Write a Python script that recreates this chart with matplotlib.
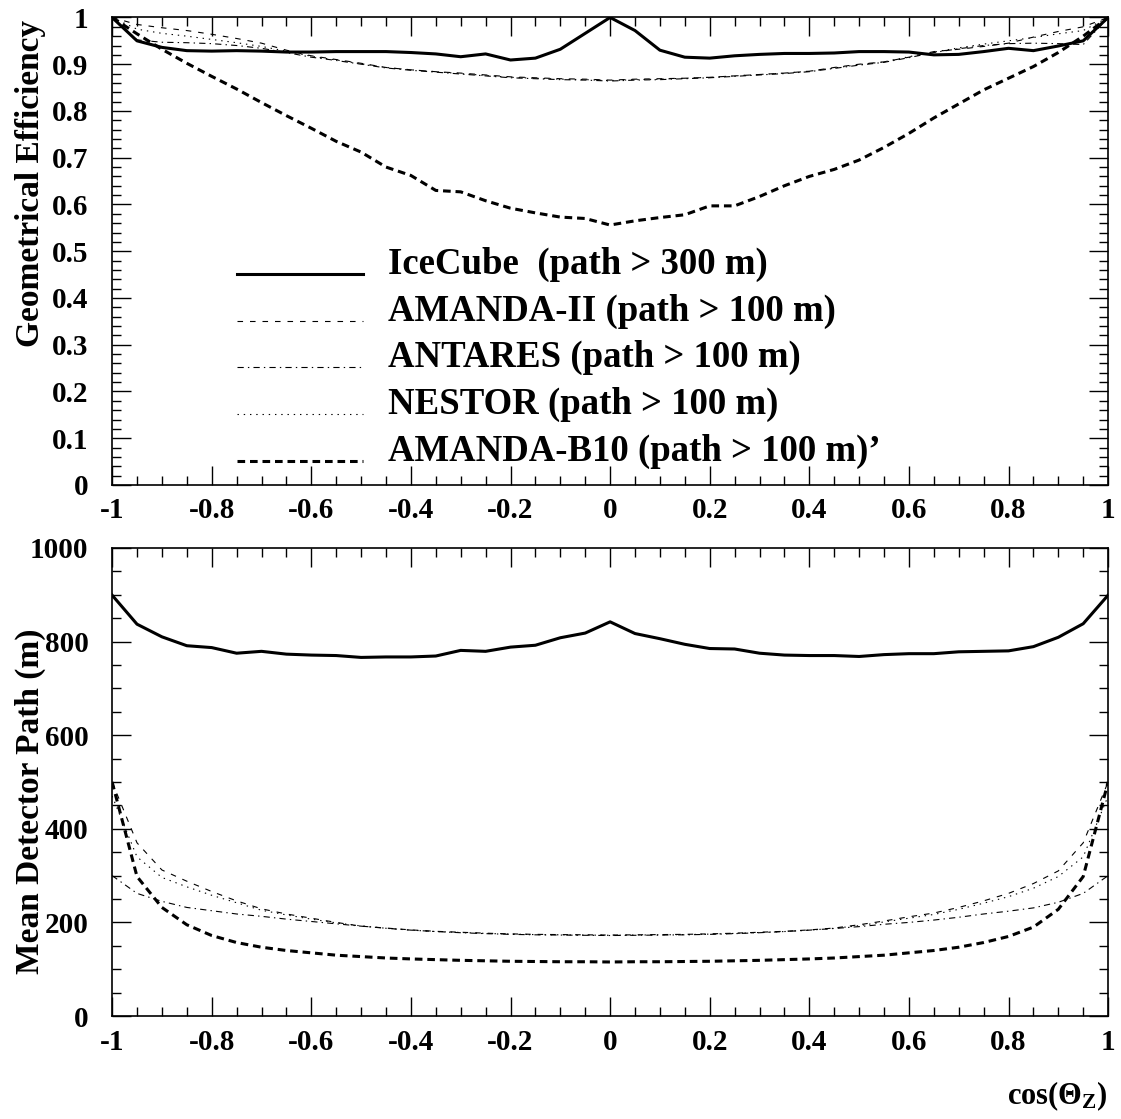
import numpy as np
import matplotlib.pyplot as plt
from matplotlib.ticker import MultipleLocator, FuncFormatter

plt.rcParams['font.family'] = ['Liberation Serif', 'DejaVu Serif']
plt.rcParams['font.weight'] = 'bold'
plt.rcParams['axes.labelweight'] = 'bold'
plt.rcParams['mathtext.fontset'] = 'custom'
plt.rcParams['mathtext.rm'] = 'Liberation Serif:bold'
plt.rcParams['mathtext.it'] = 'Liberation Serif:bold'
plt.rcParams['mathtext.bf'] = 'Liberation Serif:bold'
plt.rcParams['lines.scale_dashes'] = False
plt.rcParams['axes.unicode_minus'] = False

# cos(zenith) bins, -1 .. 1 in steps of 0.05
cos_z = np.linspace(-1, 1, 41)

# geometrical efficiency
eff_icecube = [1.000, 0.950, 0.936, 0.929, 0.928, 0.929, 0.928, 0.926, 0.926, 0.927, 0.927,
               0.927, 0.925, 0.922, 0.916, 0.922, 0.909, 0.913, 0.932, 0.966, 1.000,
               0.972, 0.930, 0.915, 0.913, 0.918, 0.921, 0.923, 0.923, 0.924, 0.927,
               0.927, 0.926, 0.920, 0.921, 0.927, 0.934, 0.929, 0.939, 0.950, 1.000]
eff_amanda2 = [1.000, 0.985, 0.978, 0.972, 0.964, 0.955, 0.945, 0.930, 0.918, 0.910, 0.902,
               0.893, 0.888, 0.884, 0.881, 0.877, 0.873, 0.871, 0.869, 0.868, 0.866,
               0.868, 0.869, 0.870, 0.872, 0.875, 0.878, 0.881, 0.885, 0.893, 0.900,
               0.905, 0.915, 0.927, 0.932, 0.938, 0.945, 0.958, 0.970, 0.980, 1.000]
eff_antares = [1.000, 0.952, 0.947, 0.946, 0.944, 0.940, 0.934, 0.925, 0.915, 0.908, 0.900,
               0.892, 0.887, 0.883, 0.879, 0.875, 0.871, 0.869, 0.867, 0.866, 0.864,
               0.866, 0.867, 0.869, 0.871, 0.874, 0.877, 0.880, 0.884, 0.891, 0.898,
               0.904, 0.914, 0.925, 0.933, 0.940, 0.944, 0.945, 0.944, 0.942, 1.000]
eff_nestor = [1.000, 0.975, 0.966, 0.960, 0.953, 0.946, 0.938, 0.928, 0.917, 0.909, 0.901,
              0.893, 0.888, 0.884, 0.880, 0.876, 0.872, 0.870, 0.868, 0.867, 0.865,
              0.867, 0.868, 0.870, 0.872, 0.875, 0.878, 0.881, 0.885, 0.892, 0.899,
              0.905, 0.916, 0.926, 0.935, 0.943, 0.950, 0.957, 0.965, 0.972, 1.000]
eff_b10 = [1.000, 0.965, 0.932, 0.902, 0.874, 0.847, 0.818, 0.790, 0.763, 0.735, 0.712,
           0.680, 0.662, 0.630, 0.627, 0.608, 0.592, 0.582, 0.573, 0.570, 0.556,
           0.565, 0.572, 0.578, 0.597, 0.597, 0.617, 0.640, 0.660, 0.675, 0.695,
           0.722, 0.752, 0.785, 0.815, 0.845, 0.870, 0.895, 0.925, 0.960, 1.000]

# mean detector path (m)
path_icecube = [899, 837, 810, 791, 787, 775, 779, 773, 771, 770, 766,
                767, 767, 769, 781, 779, 788, 792, 808, 818, 842,
                817, 806, 794, 785, 784, 775, 771, 770, 770, 768,
                772, 774, 774, 778, 779, 780, 789, 809, 838, 899]
path_amanda2 = [500, 370, 312, 288, 266, 246, 229, 218, 209, 200, 192,
                188, 184, 181, 179, 177, 175.5, 174.5, 174, 173.5, 173,
                173.5, 174, 174.5, 175.5, 177, 179, 181, 184, 188, 195,
                203, 212, 220, 232, 246, 262, 283, 310, 370, 500]
path_antares = [300, 262, 245, 232, 225, 218, 213, 207, 202, 197, 192,
                187.5, 183.5, 180.5, 178, 176, 174.5, 173.5, 173, 172.5, 172,
                172.5, 173, 173.5, 174.5, 176, 178, 180.5, 183.5, 187, 191,
                196, 200, 205, 211, 218, 224, 231, 243, 262, 300]
path_nestor = [470, 340, 296, 276, 258, 242, 226, 216, 207, 199, 192.5,
               187.5, 183.5, 180.5, 178.5, 176.5, 175, 174, 173.5, 173, 172.5,
               173, 173.5, 174, 175, 176.5, 178.5, 180.5, 183.5, 187.5, 193,
               201, 209, 217, 228, 241, 255, 273, 298, 340, 470]
path_b10 = [500, 298, 232, 195, 172, 157, 147, 140, 135, 130, 127,
            124, 122, 120.5, 119, 118, 117, 116.5, 116, 116, 115.5,
            116, 116, 116.5, 117, 118, 119, 120.5, 122, 124, 127,
            130, 135, 140, 147, 157, 170, 190, 228, 298, 500]

labels = ['IceCube  (path > 300 m)', 'AMANDA-II (path > 100 m)', 'ANTARES (path > 100 m)',
          'NESTOR (path > 100 m)', 'AMANDA-B10 (path > 100 m)\u2019']

styles = [dict(lw=2.2, ls='-'),
          dict(lw=0.8, dashes=(4, 5)),
          dict(lw=0.8, dashes=(4.5, 3, 1, 3)),
          dict(lw=0.8, dashes=(1, 3.5)),
          dict(lw=2.2, dashes=(5.5, 3.5))]


def fmt(v, pos):
    return f'{round(v, 6) + 0.0:g}'


def style_axes(ax, ymax, ymajor, yminor):
    ax.set_xlim(-1, 1)
    ax.set_ylim(0, ymax)
    ax.xaxis.set_major_locator(MultipleLocator(0.2))
    ax.xaxis.set_minor_locator(MultipleLocator(0.05))
    ax.yaxis.set_major_locator(MultipleLocator(ymajor))
    ax.yaxis.set_minor_locator(MultipleLocator(yminor))
    ax.xaxis.set_major_formatter(FuncFormatter(fmt))
    ax.yaxis.set_major_formatter(FuncFormatter(fmt))
    ax.tick_params(which='both', direction='in', top=True, right=True, width=1.0)
    ax.tick_params(which='major', length=13.5, labelsize=21)
    ax.tick_params(which='minor', length=6.5)
    ax.tick_params(axis='x', pad=9)
    ax.tick_params(axis='y', pad=17)
    for s in ax.spines.values():
        s.set_linewidth(1.2)


fig = plt.figure(figsize=(11.21, 11.19), dpi=100)
ax1 = fig.add_axes([0.1, 0.5666, 0.8885, 0.4178])
ax2 = fig.add_axes([0.1, 0.092, 0.8885, 0.4184])

top_series = [eff_icecube, eff_amanda2, eff_antares, eff_nestor, eff_b10]
bottom_series = [path_icecube, path_amanda2, path_antares, path_nestor, path_b10]

for vals, st in zip(top_series, styles):
    ax1.plot(cos_z, vals, color='black', **st)
for vals, st in zip(bottom_series, styles):
    ax2.plot(cos_z, vals, color='black', **st)

style_axes(ax1, 1.0, 0.1, 0.02)
style_axes(ax2, 1000, 200, 50)

# legend drawn inside the upper frame
row_y = [0.451, 0.351, 0.252, 0.152, 0.052]
for y, lab, st in zip(row_y, labels, styles):
    ax1.plot([0.1255, 0.252], [y, y], color='black', transform=ax1.transAxes, **st)
    ax1.text(0.277, y, lab, transform=ax1.transAxes, fontsize=26.5,
             fontweight='bold', va='baseline', ha='left')

ax1.set_ylabel('Geometrical Efficiency', fontsize=24, loc='top')
ax1.yaxis.set_label_coords(-0.066, 0.995)
ax2.set_ylabel('Mean Detector Path (m)', fontsize=24, loc='top')
ax2.yaxis.set_label_coords(-0.066, 0.828)
ax2.set_xlabel(r'cos($\Theta_{Z}$)', fontsize=22, loc='right')
ax2.xaxis.set_label_coords(1.0, -0.135)

fig.savefig('out.png', dpi=100)
